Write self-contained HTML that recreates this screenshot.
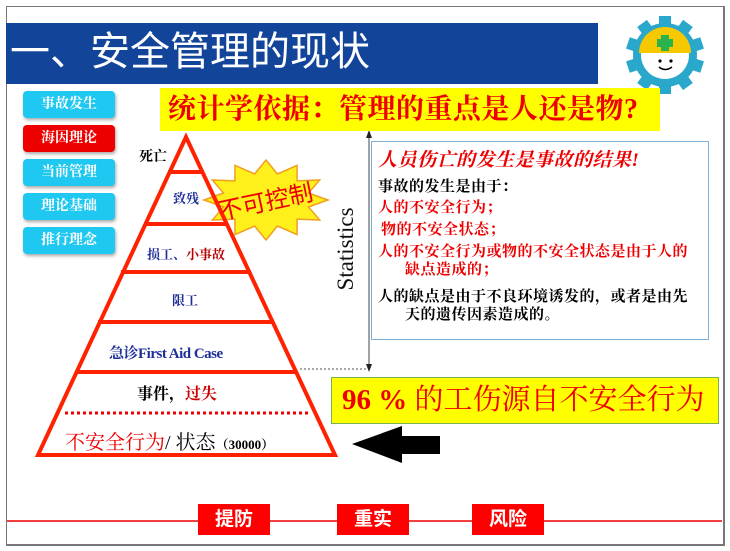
<!DOCTYPE html>
<html><head><meta charset="utf-8"><style>
body{margin:0;width:730px;height:551px;background:#fff;position:relative;overflow:hidden;font-family:"Liberation Serif","Noto Serif CJK SC",serif}
.a{position:absolute;white-space:nowrap}
.btn{position:absolute;left:23px;width:92px;height:27px;border-radius:4px;background:#1ec8f0;color:#fff;font:bold 14px "Liberation Serif","Noto Serif CJK SC",serif;text-align:center;line-height:27px;box-shadow:1px 2px 3px #aaa}
.rb{position:absolute;top:504px;height:31px;width:72px;background:#f00;color:#fff;font:bold 19px "Liberation Sans","Noto Sans CJK SC",sans-serif;text-align:center;line-height:31px}
.tx{position:absolute;left:378px;font:bold 15px "Liberation Serif","Noto Serif CJK SC",serif;white-space:nowrap;letter-spacing:0.5px}
</style></head><body>
<div class="a" style="left:6px;top:6px;width:716px;height:537px;border:1px solid #777;border-right:2px solid #777;border-bottom:2px solid #777"></div>
<div class="a" style="left:6px;top:23px;width:592px;height:61px;background:#12449a"></div>
<div class="a" style="left:10px;top:26px;color:#fff;font:40px 'Liberation Sans','Noto Sans CJK SC',sans-serif;line-height:52px">一、安全管理的现状</div>
<svg class="a" style="left:0;top:0" width="730" height="551">
<g transform="translate(665,55)" fill="#2aa8cc">
<circle r="32"/>
<g id="t"><rect x="-6" y="-39" width="12" height="10"/></g>
<use href="#t" transform="rotate(36)"/><use href="#t" transform="rotate(72)"/><use href="#t" transform="rotate(108)"/><use href="#t" transform="rotate(144)"/><use href="#t" transform="rotate(180)"/><use href="#t" transform="rotate(216)"/><use href="#t" transform="rotate(252)"/><use href="#t" transform="rotate(288)"/><use href="#t" transform="rotate(324)"/>
<circle r="24" fill="#fff"/>
<path d="M-26 -2 A26 26 0 0 1 26 -2 Z" fill="#f5c800"/>
<rect x="-4" y="-20" width="8" height="16" fill="#2bb24c"/><rect x="-8" y="-16" width="16" height="8" fill="#2bb24c"/>
<circle cx="-5" cy="6" r="1.6" fill="#000"/><circle cx="6" cy="6" r="1.6" fill="#000"/>
<path d="M-6 12 Q0 17 7 12" stroke="#000" stroke-width="1.5" fill="none"/>
</g>
<polygon points="328,200 308.5,193 319.7,180 297.1,180.9 297,165.4 277.4,173.9 266,160 254.6,173.9 235,165.4 234.9,180.9 212.3,180 223.5,193 204,200 223.5,207 212.3,220 234.9,219.1 235,234.6 254.6,226.1 266,240 277.4,226.1 297,234.6 297.1,219.1 319.7,220 308.5,207" fill="#ffef1a" stroke="#f0a020" stroke-width="1.5"/>
<text x="266" y="210" text-anchor="middle" fill="#e00" font-size="24" font-family="Liberation Sans,Noto Sans CJK SC,sans-serif" transform="rotate(-12 266 204)">不可控制</text>
<g stroke="#ff2200" stroke-width="4" fill="none">
<polygon points="186,137 38,455 335,455" stroke-linejoin="miter"/>
<line x1="168" y1="172" x2="204" y2="172"/>
<line x1="144" y1="224" x2="228" y2="224"/>
<line x1="121" y1="272" x2="251" y2="272"/>
<line x1="98" y1="322" x2="274" y2="322"/>
<line x1="76" y1="372" x2="296" y2="372"/>
</g>
<line x1="65" y1="413" x2="308" y2="413" stroke="#e00" stroke-width="3" stroke-dasharray="3,3"/>
<line x1="369" y1="133" x2="369" y2="369" stroke="#444" stroke-width="1"/>
<polygon points="369,130 366,138 372,138" fill="#222"/><polygon points="369,372 366,364 372,364" fill="#222"/>
<line x1="300" y1="369" x2="366" y2="369" stroke="#555" stroke-width="1" stroke-dasharray="2,2"/>
<text transform="translate(353,249) rotate(-90)" text-anchor="middle" font-size="23" fill="#111" font-family="Liberation Serif,serif">Statistics</text>
<polygon points="352,444 402,426 402,436 440,436 440,454 402,454 402,463" fill="#000"/>
<line x1="7" y1="521" x2="722" y2="521" stroke="#e00" stroke-width="1.5"/>
</svg>
<div class="btn" style="top:91px">事故发生</div>
<div class="btn" style="top:125px;background:#e00">海因理论</div>
<div class="btn" style="top:159px">当前管理</div>
<div class="btn" style="top:193px">理论基础</div>
<div class="btn" style="top:227px">推行理念</div>
<div class="a" style="left:160px;top:88px;width:500px;height:43px;background:#ffff00;color:#e00;font:bold 28px 'Liberation Serif','Noto Serif CJK SC',serif;line-height:43px;text-indent:8px;letter-spacing:0.5px">统计学依据：管理的重点是人还是物?</div>
<div class="a" style="left:139px;top:146px;font:bold 14px 'Liberation Serif','Noto Serif CJK SC',serif">死亡</div>
<div class="a" style="left:173px;top:188px;font:bold 13px 'Liberation Serif','Noto Serif CJK SC',serif;color:#1e2f99">致残</div>
<div class="a" style="left:147px;top:244px;font:bold 13px 'Liberation Serif','Noto Serif CJK SC',serif;color:#1e2f99">损工、<span style="color:#b00">小事故</span></div>
<div class="a" style="left:172px;top:290px;font:bold 13px 'Liberation Serif','Noto Serif CJK SC',serif;color:#1e2f99">限工</div>
<div class="a" style="left:109px;top:342px;font:bold 15px 'Liberation Serif','Noto Serif CJK SC',serif;color:#1e2f99;letter-spacing:-0.5px">急诊First Aid Case</div>
<div class="a" style="left:137px;top:381px;font:bold 16px 'Liberation Serif','Noto Serif CJK SC',serif">事件，<span style="color:#c00">过失</span></div>
<div class="a" style="left:65px;top:426px;font:20px 'Liberation Serif','Noto Serif CJK SC',serif;color:#e00">不安全行为<span style="color:#000">/ 状态</span><span style="color:#000;font-weight:bold;font-size:13px">（30000）</span></div>
<div class="a" style="left:371px;top:141px;width:336px;height:197px;border:1px solid #7fb0d8"></div>
<div class="tx" style="top:145px;font-size:19px;font-style:italic;color:#e00">人员伤亡的发生是事故的结果!</div>
<div class="tx" style="top:175px">事故的发生是由于：</div>
<div class="tx" style="top:196px;color:#e00">人的不安全行为；</div>
<div class="tx" style="top:218px;left:381px;color:#e00">物的不安全状态；</div>
<div class="tx" style="top:240px;color:#e00">人的不安全行为或物的不安全状态是由于人的</div>
<div class="tx" style="top:258px;left:405px;color:#e00">缺点造成的；</div>
<div class="tx" style="top:285px">人的缺点是由于不良环境诱发的，或者是由先</div>
<div class="tx" style="top:303px;left:405px">天的遗传因素造成的。</div>
<div class="a" style="left:331px;top:377px;width:386px;height:45px;background:#ffff00;border:1px solid #7ab050;color:#e00;font:bold 29px 'Liberation Serif','Noto Serif CJK SC',serif;line-height:45px;text-indent:10px">96 % <span style="font-weight:normal">的工伤源自不安全行为</span></div>
<div class="rb" style="left:198px">提防</div>
<div class="rb" style="left:337px">重实</div>
<div class="rb" style="left:472px">风险</div>
</body></html>
